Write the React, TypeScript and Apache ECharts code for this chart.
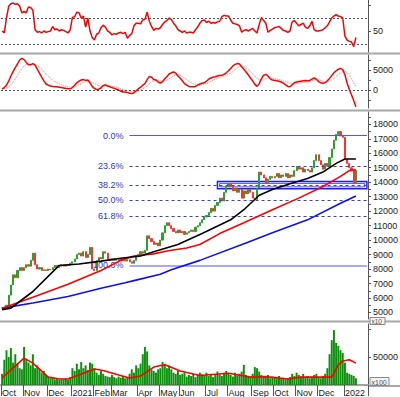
import React, { useEffect, useRef } from "react";
import * as echarts from "echarts";

// ---- x axis: month labels and number of (two-day) bars in each month ----
const monthLabels = ["Oct", "Nov", "Dec", "2021", "Feb", "Mar", "Apr", "May", "Jun", "Jul", "Aug", "Sep", "Oct", "Nov", "Dec", "2022"];
const monthCounts = [10, 11, 11, 10, 8, 12, 10, 9, 12, 10, 11, 10, 10, 10, 12, 11];

// ---- price closes (x10) ----
const closes = [
  5300, 5300, 5500, 6200, 6900, 7600, 7400, 7900, 8100, 7900,
  8100, 8300, 8200, 8600, 9100, 8300, 8000, 8100, 7900, 7950, 7900,
  8000, 7950, 8100, 8250, 8100, 8200, 8300, 8200, 8300, 8250, 8400,
  8500, 8700, 9000, 9100, 8900, 9200, 8800, 9000, 9500, 8000,
  7900, 8600, 8800, 8700, 9200, 9100, 8700, 8600,
  8700, 8600, 8650, 8550, 8700, 8600, 8550, 8650, 8500, 8400, 8600, 8900,
  9000, 9200, 9100, 9300, 10300, 10100, 9900, 9700, 9800, 9600,
  10000, 10500, 11000, 11200, 11000, 10800, 10600, 10500, 10700,
  10500, 10600, 10400, 10500, 10600, 10700, 10600, 10900, 11000, 11200, 11400, 11600,
  11700, 11900, 12200, 12000, 12400, 12600, 12900, 12700, 13300, 13700,
  13900, 13700, 13400, 13600, 13300, 13500, 12900, 13400, 13200, 13500, 13300,
  12900, 12800, 13600, 14700, 14500, 14300, 13900, 14200, 14400, 14300,
  14400, 14600, 14300, 14500, 14400, 14600, 14300, 14500, 14400, 14800,
  15100, 14900, 15000, 14700, 14900, 14800, 14700, 15000, 15500, 15900,
  15500, 15200, 14900, 15300, 15100, 15700, 16300, 16900, 17300, 17500, 17200, 17100,
  15600, 15300, 15000, 14800, 13900, 14800,
];

// ---- volume (x100) ----
const volumes = [
  20000, 45000, 62000, 50000, 66000, 40000, 55000, 38000, 30000, 28000,
  68000, 45000, 40000, 35000, 55000, 30000, 35000, 28000, 22000, 25000, 18000,
  15000, 12000, 14000, 10000, 12000, 9000, 11000, 10000, 12000, 9000, 14000,
  30000, 25000, 38000, 28000, 41000, 30000, 35000, 27000, 40000, 38000,
  30000, 22000, 18000, 25000, 20000, 16000, 15000, 14000,
  18000, 14000, 12000, 15000, 13000, 16000, 12000, 14000, 20000, 28000, 22000, 35000,
  30000, 38000, 55000, 68000, 60000, 35000, 28000, 25000, 22000, 28000,
  30000, 41000, 38000, 30000, 35000, 28000, 22000, 20000, 25000,
  18000, 20000, 22000, 15000, 18000, 16000, 20000, 14000, 18000, 22000, 19000, 17000,
  22000, 16000, 20000, 14000, 18000, 24000, 19000, 16000, 22000, 25000,
  20000, 18000, 15000, 22000, 17000, 20000, 24000, 36000, 18000, 16000, 15000,
  20000, 32000, 30000, 24000, 18000, 16000, 14000, 18000, 12000, 15000,
  14000, 12000, 16000, 11000, 13000, 10000, 12000, 14000, 20000, 16000,
  22000, 18000, 15000, 20000, 14000, 16000, 12000, 15000, 18000, 20000,
  14000, 12000, 16000, 20000, 30000, 55000, 80000, 98000, 75000, 70000, 62000, 57000,
  40000, 22000, 20000, 18000, 16000, 12000,
];

// ---- RSI ----
const rsi = [
  50, 47, 70, 88, 92, 93, 91, 92, 88, 78,
  80, 78, 87, 86, 82, 52, 48, 49, 47, 50, 48,
  49, 50, 57, 52, 53, 50, 52, 51, 49, 47, 52,
  71, 72, 79, 78, 70, 73, 56, 70, 50, 40,
  36, 45, 47, 55, 59, 56, 50, 48,
  44, 46, 45, 47, 48, 46, 48, 39, 43, 46, 58, 62,
  62, 61, 67, 68, 79, 65, 57, 51, 54, 53,
  55, 60, 64, 66, 70, 68, 62, 58, 52,
  50, 48, 50, 47, 48, 48, 47, 52, 56, 62, 66, 67,
  63, 65, 62, 63, 62, 64, 65, 72, 74, 73,
  73, 67, 62, 61, 60, 58, 48, 51, 52, 50, 52,
  54, 50, 47, 60, 71, 66, 62, 48, 51, 53,
  55, 56, 57, 54, 51, 50, 48, 50, 64, 66,
  62, 58, 60, 62, 56, 54, 58, 65, 52, 50,
  50, 51, 52, 55, 58, 64, 70, 73, 75, 73, 72, 70,
  42, 36, 34, 33, 26, 40,
];

// ---- MACD and signal ----
const macd = [
  300, 600, 1200, 2200, 3500, 4600, 5600, 6500, 7500, 7900,
  7600, 6900, 6300, 6300, 6600, 6200, 5200, 4200, 3200, 2300, 1500,
  1200, 1000, 900, 800, 800, 700, 600, 500, 400, 300, 300,
  600, 1200, 1800, 2200, 2500, 2600, 2400, 2500, 1800, 900,
  400, 100, 200, 500, 1100, 1300, 1000, 800,
  600, 400, 200, 0, -300, -500, -500, -600, -800, -900, -700, -200,
  300, 700, 1200, 1600, 2600, 3400, 3200, 2600, 2500, 2000,
  1700, 2100, 2800, 3400, 4000, 4300, 4500, 4200, 3500,
  3000, 2300, 1600, 1200, 900, 800, 800, 900, 1200, 1500, 1700, 1800,
  2200, 2700, 3000, 3200, 3300, 3500, 3600, 3700, 3900, 4300,
  4800, 5400, 6000, 6400, 6600, 6500, 5800, 5200, 4500, 3800, 3000,
  2300, 1400, 900, 1600, 2800, 3700, 3900, 3500, 2800, 2500,
  2400, 2300, 2200, 2000, 1700, 1300, 900, 800, 1300, 1800,
  2000, 2100, 2200, 2300, 2400, 2300, 2400, 2700, 3000, 2700,
  2100, 1800, 1700, 1800, 2300, 2900, 3600, 4300, 4800, 5200, 5400, 5100,
  3800, 1700, 100, -1200, -2600, -4200,
];
const signal = [
  200, 300, 500, 800, 1300, 2000, 2800, 3700, 4600, 5400,
  6000, 6400, 6500, 6500, 6500, 6400, 6100, 5700, 5200, 4600, 4000,
  3400, 2900, 2500, 2100, 1800, 1500, 1300, 1100, 900, 800, 700,
  700, 800, 1000, 1300, 1600, 1900, 2100, 2200, 2100, 1900,
  1600, 1300, 1100, 900, 900, 1000, 1000, 1000,
  900, 800, 700, 500, 300, 100, 0, -100, -300, -400, -500, -400,
  -300, -100, 200, 600, 1000, 1600, 2100, 2400, 2500, 2400,
  2300, 2200, 2300, 2500, 2800, 3200, 3600, 3800, 3800,
  3700, 3400, 3000, 2600, 2200, 1800, 1500, 1300, 1200, 1200, 1300, 1500,
  1600, 1900, 2200, 2500, 2700, 2900, 3100, 3300, 3400, 3600,
  3900, 4200, 4600, 5100, 5500, 5800, 5900, 5800, 5500, 5100, 4600,
  4100, 3500, 2900, 2600, 2500, 2700, 2900, 3000, 3000, 2900,
  2800, 2700, 2600, 2500, 2300, 2100, 1900, 1700, 1500, 1500,
  1600, 1700, 1800, 1900, 2000, 2100, 2200, 2300, 2500, 2600,
  2500, 2400, 2200, 2000, 2000, 2200, 2500, 2900, 3400, 3900, 4300, 4600,
  4700, 4400, 3700, 2800, 1800, 800,
];

// ---- moving averages, read as [bar index, value] ----
const maBlack = [[0, 5200], [4, 5300], [14, 6450], [26, 8250], [35, 8350], [45, 8550], [54, 8750], [63, 8900], [69, 9200], [80, 9700], [91, 10450], [104, 11400], [110, 12100], [117, 13100], [123, 13500], [131, 13900], [139, 14250], [146, 14700], [152, 15300], [156, 15600], [161, 15600]];
const maRed = [[0, 5300], [14, 6050], [30, 6950], [45, 7900], [54, 8600], [60, 8900], [69, 9050], [75, 9250], [84, 9450], [90, 9700], [99, 10450], [110, 11200], [123, 12100], [135, 12900], [146, 13700], [154, 14400], [158, 14800], [161, 14850]];
const maBlue = [[0, 5300], [14, 5650], [30, 6100], [45, 6670], [56, 7050], [60, 7200], [72, 7640], [77, 7950], [90, 8600], [111, 9800], [123, 10500], [139, 11400], [154, 12550], [161, 13050]];
const volMa = [[0, 12500], [4, 27000], [10, 48000], [14, 39000], [21, 14000], [26, 10700], [30, 10700], [35, 18000], [42, 28500], [46, 26000], [53, 18000], [58, 12500], [63, 16000], [69, 32000], [74, 36000], [78, 30000], [81, 25000], [90, 17000], [103, 21000], [113, 14000], [120, 15000], [130, 10700], [136, 14000], [150, 14000], [153, 36000], [155, 43000], [158, 45000], [161, 39000]];

// ---- Fibonacci retracement and support zone ----
const fibHigh = 17220;
const fibLow = 8260;
const fibRatios = [0, 23.6, 38.2, 50, 61.8, 100];
const fibStartIndex = 58;
const zoneHigh = 14050;
const zoneLow = 13550;
const zoneStartIndex = 98;

// ---- axis label / tick values ----
const priceLabels = [5000, 6000, 7000, 8000, 9000, 10000, 11000, 12000, 13000, 14000, 15000, 16000, 17000, 18000];
const priceTicks = [5000, 5500, 6000, 6500, 7000, 7500, 8000, 8500, 9000, 9500, 10000, 10500, 11000, 11500, 12000, 12500, 13000, 13500, 14000, 14500, 15000, 15500, 16000, 16500, 17000, 17500, 18000, 18500];
const rsiLabels = [50];
const rsiTicks = [50, 90];
const rsiLevels = [70, 30];
const macdLabels = [0, 5000];
const macdTicks = [-2500, 0, 2500, 5000, 7500];
const volLabels = [50000];
const volTicks = [50000, 100000];

const FONT = "'Liberation Sans', Arial, sans-serif";

export default function App() {
  const ref = useRef<HTMLDivElement>(null);

  useEffect(() => {
    if (!ref.current) return;
    const chart = echarts.init(ref.current, null, { renderer: "svg" });

    const categories: string[] = [];
    const monthStart = new Map<number, string>();
    monthLabels.forEach((m, mi) => {
      monthStart.set(categories.length, m);
      for (let k = 0; k < monthCounts[mi]; k++) categories.push(`${mi}-${k}`);
    });
    const lastIndex = categories.length - 1;

    const candles = closes.map((c, i) => {
      const o = i === 0 ? c : closes[i - 1];
      return [o, c, Math.min(o, c), Math.max(o, c)];
    });

    const grids = [
      { left: 1, right: 32, top: 0, height: 52 },
      { left: 1, right: 32, top: 55, height: 53 },
      { left: 1, right: 32, top: 112, height: 207 },
      { left: 1, right: 32, top: 324, height: 61 },
    ].map((g) => ({ ...g, outerBoundsMode: "none" as any, containLabel: false }));

    const hiddenX = (gi: number) => ({
      type: "category",
      gridIndex: gi,
      data: categories,
      boundaryGap: true,
      show: false,
    });

    const yAxisOf = (gi: number, min: number, max: number, labels: number[], ticks: number[]) => ({
      type: "value",
      gridIndex: gi,
      position: "right",
      min,
      max,
      splitLine: { show: false },
      axisLine: { show: true, lineStyle: { color: "#555", width: 1 } },
      axisTick: { show: true, length: 3, customValues: ticks, lineStyle: { color: "#555" } },
      axisLabel: {
        show: true,
        customValues: labels,
        formatter: (v: number) => String(v),
        fontSize: 9,
        color: "#222",
        margin: 5,
        fontFamily: FONT,
      },
    });

    const dashed = (levels: number[]) => ({
      silent: true,
      symbol: ["none", "none"],
      label: { show: false },
      lineStyle: { color: "#555", type: [2, 2], width: 1 },
      data: levels.map((v) => ({ yAxis: v })),
    });

    const fibLines = fibRatios.map((r) => {
      const level = fibHigh - (r / 100) * (fibHigh - fibLow);
      const solid = r === 0 || r === 100;
      return [
        {
          coord: [categories[fibStartIndex], level],
          lineStyle: {
            color: r === 100 ? "#8a8aff" : solid ? "#5555ee" : "#3a3aee",
            width: r === 100 ? 1.5 : 1,
            type: solid ? "solid" : [3, 3],
          },
          label: {
            show: true,
            position: "start",
            distance: 6,
            formatter: `${r.toFixed(1)}%`,
            color: "#3434cc",
            fontSize: 9,
            fontFamily: FONT,
          },
        },
        { coord: [categories[lastIndex], level] },
      ];
    });

    const maLine = (data: number[][], color: string, xi: number) => ({
      type: "line",
      xAxisIndex: xi,
      yAxisIndex: xi,
      data,
      symbol: "none",
      lineStyle: { color, width: 1.6 },
      silent: true,
      z: 5,
    });

    chart.setOption({
      animation: false,
      backgroundColor: "#ffffff",
      textStyle: { fontFamily: FONT },
      grid: grids,
      xAxis: [
        hiddenX(0),
        hiddenX(1),
        hiddenX(2),
        {
          type: "category",
          gridIndex: 3,
          data: categories,
          boundaryGap: true,
          axisLine: { show: true, lineStyle: { color: "#a0a0a0", width: 2 } },
          axisTick: {
            show: true,
            interval: (i: number) => monthStart.has(i),
            length: 11,
            lineStyle: { color: "#555" },
          },
          axisLabel: {
            show: true,
            interval: (i: number) => monthStart.has(i),
            formatter: (_v: string, i: number) => monthStart.get(i) ?? "",
            align: "left",
            margin: 3,
            fontSize: 9,
            color: "#222",
            fontFamily: FONT,
          },
          splitLine: { show: false },
        },
      ],
      yAxis: [
        yAxisOf(0, 17.7, 97.7, rsiLabels, rsiTicks),
        yAxisOf(1, -4500, 8750, macdLabels, macdTicks),
        yAxisOf(2, 4550, 18850, priceLabels, priceTicks),
        yAxisOf(3, 0, 108900, volLabels, volTicks),
      ],
      series: [
        {
          type: "line",
          xAxisIndex: 0,
          yAxisIndex: 0,
          data: rsi,
          symbol: "none",
          lineStyle: { color: "#ff0000", width: 1.5 },
          markLine: dashed(rsiLevels),
        },
        {
          type: "line",
          xAxisIndex: 1,
          yAxisIndex: 1,
          data: signal,
          symbol: "none",
          lineStyle: { color: "#ff7070", width: 1, type: "dotted" },
          markLine: dashed([0]),
        },
        {
          type: "line",
          xAxisIndex: 1,
          yAxisIndex: 1,
          data: macd,
          symbol: "none",
          lineStyle: { color: "#ff0000", width: 1.5 },
        },
        {
          type: "candlestick",
          xAxisIndex: 2,
          yAxisIndex: 2,
          data: candles,
          barWidth: 1.6,
          itemStyle: {
            color: "#2ca02c",
            color0: "#ff3030",
            borderColor: "#2ca02c",
            borderColor0: "#ff3030",
            borderWidth: 1,
          },
          markLine: { silent: true, symbol: ["none", "none"], data: fibLines },
          markArea: {
            silent: true,
            data: [
              [
                { coord: [categories[zoneStartIndex], zoneHigh], itemStyle: { color: "rgba(0,0,0,0)", borderColor: "#1a1aff", borderWidth: 1.5 } },
                { coord: [categories[lastIndex], zoneLow] },
              ],
              [
                { coord: [categories[zoneStartIndex + 1], zoneHigh - 130], itemStyle: { color: "rgba(0,0,0,0)", borderColor: "#4a4aff", borderWidth: 1 } },
                { coord: [categories[lastIndex - 1], zoneLow + 130] },
              ],
            ],
          },
        },
        maLine(maBlue, "#1010ee", 2),
        maLine(maRed, "#ff0000", 2),
        maLine(maBlack, "#000000", 2),
        {
          type: "bar",
          xAxisIndex: 3,
          yAxisIndex: 3,
          data: volumes,
          barCategoryGap: "10%",
          itemStyle: { color: "#0e900e" },
          silent: true,
        },
        maLine(volMa, "#ff0000", 3),
      ],
      graphic: [
        { type: "line", shape: { x1: 0, y1: 53.5, x2: 400, y2: 53.5 }, style: { stroke: "#a8a8a8", lineWidth: 2 }, silent: true },
        { type: "line", shape: { x1: 0, y1: 110.5, x2: 400, y2: 110.5 }, style: { stroke: "#a8a8a8", lineWidth: 2 }, silent: true },
        { type: "line", shape: { x1: 0, y1: 321.5, x2: 400, y2: 321.5 }, style: { stroke: "#a8a8a8", lineWidth: 2 }, silent: true },
        { type: "line", shape: { x1: 368, y1: 386, x2: 400, y2: 386 }, style: { stroke: "#a8a8a8", lineWidth: 2 }, silent: true },
        { type: "rect", shape: { x: 370, y: 317.5, width: 15, height: 7 }, style: { fill: "#f2f2f2", stroke: "#8a8a8a", lineWidth: 1 }, silent: true },
        { type: "text", x: 371.5, y: 318, style: { text: "x10", fontSize: 6.5, fill: "#555", fontFamily: FONT }, silent: true },
        { type: "rect", shape: { x: 370, y: 377.5, width: 19, height: 8 }, style: { fill: "#f2f2f2", stroke: "#8a8a8a", lineWidth: 1 }, silent: true },
        { type: "text", x: 371.5, y: 378.5, style: { text: "x100", fontSize: 7, fill: "#555", fontFamily: FONT }, silent: true },
      ],
    });

    return () => chart.dispose();
  }, []);

  return (
    <div
      ref={ref}
      style={{ position: "fixed", left: 0, top: 0, width: 400, height: 397, background: "#fff" }}
    />
  );
}
